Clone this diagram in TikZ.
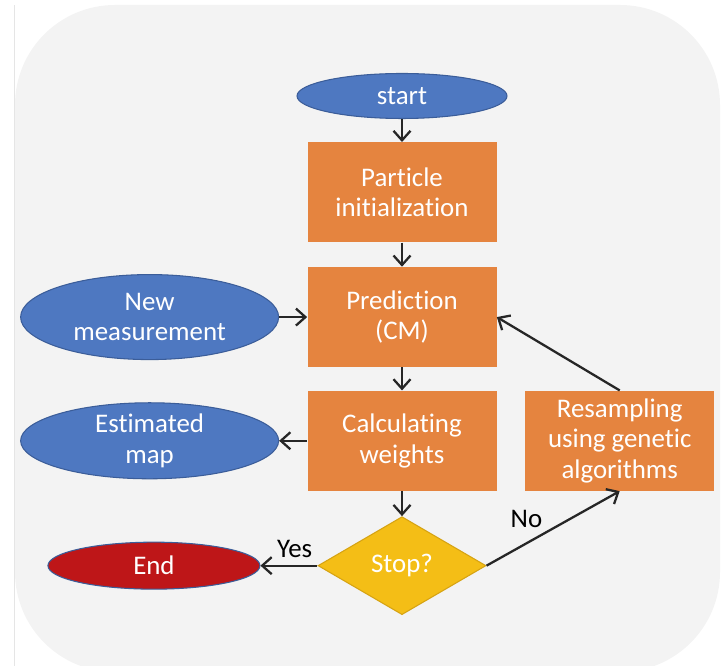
\documentclass[tikz,border=0pt]{standalone}
\usepackage{fontspec}
\setmainfont{Carlito}[Ligatures=NoCommon]
\usetikzlibrary{shapes.geometric, arrows.meta, positioning}
\definecolor{bggray}{HTML}{F3F3F3}
\definecolor{ovalblue}{HTML}{4E78C1}
\definecolor{ovalline}{HTML}{3B5D99}
\definecolor{boxorange}{HTML}{E5843F}
\definecolor{stopgold}{HTML}{F4BE16}
\definecolor{stopline}{HTML}{D6A312}
\definecolor{endred}{HTML}{BE1618}
\begin{document}
\begin{tikzpicture}[
			node distance=0.5cm,
			font=\fontsize{15.3}{17.5}\selectfont,
			box/.style={rectangle, fill=boxorange, text=white, align=center, minimum width=3.78cm, minimum height=2cm},
			oval/.style={ellipse, draw=ovalline, line width=0.6pt, fill=ovalblue, text=white, align=center, inner sep=0pt},
			decision/.style={diamond, draw=stopline, line width=0.6pt, fill=stopgold, text=white, minimum width=3.36cm, minimum height=1.96cm, inner sep=0pt},
			flow/.style={-{Straight Barb[length=1.9mm, width=3.4mm]}, draw=black!85, line width=1.3pt}
			]
			\useasboundingbox (0,0) rectangle (14.52,-13.32);
			\begin{scope}
				\clip (0,0) rectangle (14.52,-13.32);
				\fill[bggray, rounded corners=2cm] (0.3,-0.1) rectangle (14.4,-13.44);
			\end{scope}
			\draw[gray!20, line width=0.5pt] (0.28,-0.1) -- (0.28,-13.32);
			\node[oval, minimum width=4.2cm, minimum height=0.9cm] (start) at (8.04,-1.92) {start};
			\node[box, below=0.46cm of start] (init) {Particle\\initialization};
			\node[box, below=0.48cm of init] (pred) {Prediction\\(CM)};
			\node[box, below=0.46cm of pred] (calc) {Calculating\\weights};
			\node[decision, below=0.5cm of calc] (stop) {Stop?};
			\node[oval, minimum width=5.16cm, minimum height=1.7cm, left=0.56cm of pred] (newmeas) {New\\measurement};
			\node[oval, minimum width=5.16cm, minimum height=1.46cm, left=0.56cm of calc] (estmap) {Estimated\\map};
			\node[oval, fill=endred, minimum width=4.24cm, minimum height=0.94cm, left=1.14cm of stop] (finish) {End};
			\node[box, right=0.56cm of calc] (resamp) {Resampling\\using genetic\\algorithms};
			\draw[flow] (start) -- (init);
			\draw[flow] (init) -- (pred);
			\draw[flow] (pred) -- (calc);
			\draw[flow] (calc) -- (stop);
			\draw[flow] (newmeas) -- (pred);
			\draw[flow] (calc) -- (estmap);
			\draw[flow] (stop) -- node[above=3pt, pos=0.4, inner sep=1pt] {Yes} (finish);
			\draw[flow] (stop.east) -- node[above=6pt, pos=0.3, inner sep=2pt] {No} (resamp.south);
			\draw[flow] (resamp.north) -- (pred.east);
		\end{tikzpicture}
\end{document}
